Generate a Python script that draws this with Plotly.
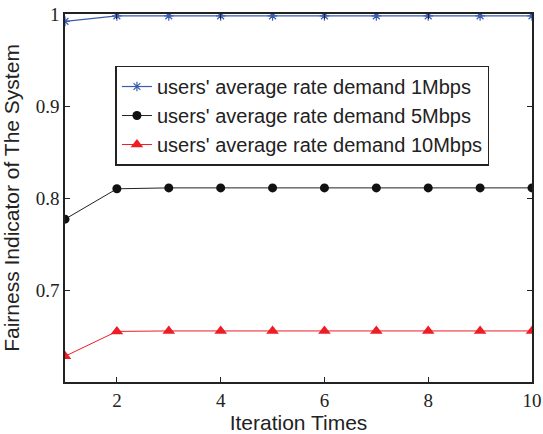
import plotly.graph_objects as go

x = [1, 2, 3, 4, 5, 6, 7, 8, 9, 10]
y_1mbps = [0.992, 0.998, 0.998, 0.998, 0.998, 0.998, 0.998, 0.998, 0.998, 0.998]
y_5mbps = [0.777, 0.810, 0.811, 0.811, 0.811, 0.811, 0.811, 0.811, 0.811, 0.811]
y_10mbps = [0.628, 0.655, 0.6555, 0.6555, 0.6555, 0.6555, 0.6555, 0.6555, 0.6555, 0.6555]
names = ["users' average rate demand 1Mbps",
         "users' average rate demand 5Mbps",
         "users' average rate demand 10Mbps"]

fig = go.Figure()
fig.add_trace(go.Scatter(x=x, y=y_1mbps, name=names[0], mode="lines+markers",
                         line=dict(color="#3a5cb0", width=1.2),
                         marker=dict(symbol="asterisk-open", size=8, color="#3a5cb0",
                                     line=dict(color="#3a5cb0", width=1.2))))
fig.add_trace(go.Scatter(x=x, y=y_5mbps, name=names[1], mode="lines+markers",
                         line=dict(color="#222222", width=1),
                         marker=dict(symbol="circle", size=9, color="#111111")))
fig.add_trace(go.Scatter(x=x, y=y_10mbps, name=names[2], mode="lines+markers",
                         line=dict(color="#ee1c24", width=1),
                         marker=dict(symbol="triangle-up", size=11, color="#ee1c24")))

fig.update_layout(
    width=543, height=434,
    margin=dict(l=65, r=11, t=14, b=52),
    paper_bgcolor="white", plot_bgcolor="white",
    showlegend=True,
    legend=dict(x=0.108, y=0.86, xanchor="left", yanchor="top",
                bgcolor="white", bordercolor="#222222", borderwidth=1.5,
                font=dict(family="Liberation Sans, Arial", size=20, color="#222222"),
                tracegroupgap=0, itemwidth=30),
    xaxis=dict(range=[1, 10], tickvals=[2, 4, 6, 8, 10], ticks="inside", ticklen=5,
               automargin=False,
               showgrid=False, zeroline=False, showline=True, linecolor="#222222",
               linewidth=1.5, mirror="ticks", tickcolor="#222222",
               tickfont=dict(family="Liberation Serif, Times New Roman", size=19, color="#222222"),
               title=dict(text="Iteration Times",
                          font=dict(family="Liberation Sans, Arial", size=21, color="#222222"))),
    yaxis=dict(range=[0.6, 1.0], tickvals=[0.7, 0.8, 0.9, 1.0], ticktext=["0.7", "0.8", "0.9", "1"],
               ticks="inside", ticklen=5, automargin=False,
               showgrid=False, zeroline=False, showline=True, linecolor="#222222",
               linewidth=1.5, mirror="ticks", tickcolor="#222222",
               tickfont=dict(family="Liberation Serif, Times New Roman", size=19, color="#222222"),
               title=dict(text="Fairness Indicator of The System",
                          font=dict(family="Liberation Sans, Arial", size=21, color="#222222"))),
)

fig.write_html("out.html")
